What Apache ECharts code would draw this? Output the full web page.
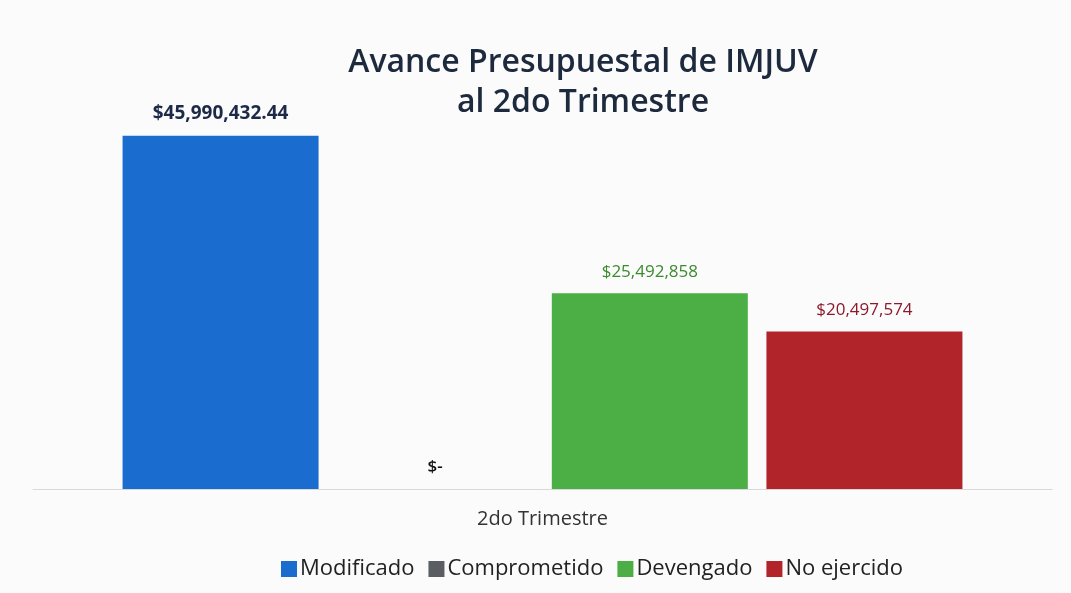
<!DOCTYPE html>
<html>
<head>
<meta charset="utf-8">
<script src="https://cdn.jsdelivr.net/npm/echarts@6/dist/echarts.min.js"></script>
<style>
  html, body { margin: 0; padding: 0; background: #fbfbfb; }
  #chart { width: 1071px; height: 593px; }
</style>
</head>
<body>
<div id="chart"></div>
<script>
// Data
const categories = ['2do Trimestre'];
const seriesNames = ['Modificado', 'Comprometido', 'Devengado', 'No ejercido'];
const modificado = [45990432.44];
const comprometido = [0];
const devengado = [25492858];
const noEjercido = [20497574];

const seriesValues = [modificado, comprometido, devengado, noEjercido];
const barColors = ['#1a6ccf', '#5a5d62', '#4caf45', '#b0242a'];
const labelColors = ['#1c2a48', '#111111', '#3b8a2e', '#8c1a2c'];
const labelSizes = [19, 17, 17, 17];
const labelWeights = [700, 600, 400, 400];

const fmt = (v) => v === 0 ? '$-' : '$' + v.toLocaleString('en-US', { maximumFractionDigits: 2 });

const chart = echarts.init(document.getElementById('chart'));

chart.setOption({
  animation: false,
  backgroundColor: '#fbfbfb',
  textStyle: { fontFamily: 'Open Sans' },
  title: {
    text: 'Avance Presupuestal de IMJUV\nal 2do Trimestre',
    left: 578,
    textAlign: 'center',
    top: 38,
    textStyle: {
      fontSize: 32,
      fontWeight: 600,
      color: '#1d2a3e',
      lineHeight: 40,
      fontFamily: 'Open Sans'
    }
  },
  legend: {
    bottom: 8,
    left: 276,
    itemWidth: 16,
    itemHeight: 16,
    itemGap: 14,
    icon: 'rect',
    textStyle: { fontSize: 22, color: '#222', padding: [0, 0, 0, -2] },
    data: seriesNames
  },
  grid: { left: 33, right: 19, top: 105, bottom: 104 },
  xAxis: {
    type: 'category',
    data: categories,
    axisLine: { lineStyle: { color: '#d9d9d9', width: 1 } },
    axisTick: { show: false },
    axisLabel: { fontSize: 20, color: '#333', margin: 20 }
  },
  yAxis: {
    type: 'value',
    min: 0,
    max: 50000000,
    show: false,
    splitLine: { show: false }
  },
  series: seriesNames.map((name, i) => ({
    name: name,
    type: 'bar',
    data: seriesValues[i],
    barWidth: 196,
    barGap: '9.5%',
    itemStyle: { color: barColors[i] },
    label: {
      show: true,
      position: 'top',
      distance: 13,
      fontSize: labelSizes[i],
      fontWeight: labelWeights[i],
      color: labelColors[i],
      formatter: (p) => fmt(p.value)
    }
  }))
});
</script>
</body>
</html>
